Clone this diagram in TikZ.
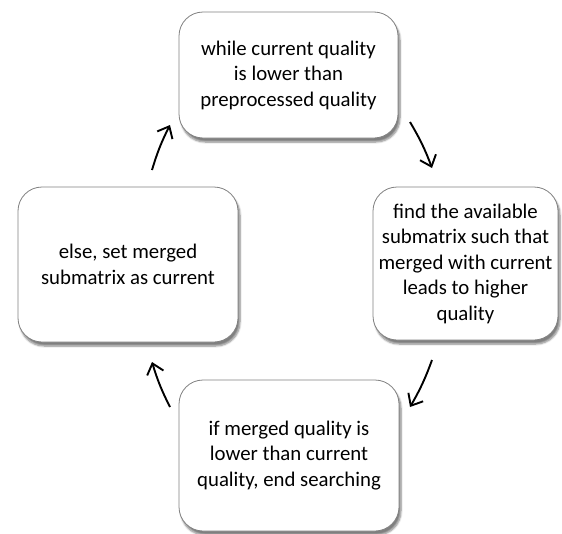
\documentclass[tikz,border=0pt]{standalone}
\usepackage{fontspec}
\setmainfont{Carlito}
\usetikzlibrary{arrows.meta,shadows.blur}
\begin{document}
\begin{tikzpicture}[x=1pt,y=-1pt,
  stepbox/.style={draw=black!50, line width=0.8pt, fill=white, rounded corners=24pt,
    blur shadow={shadow xshift=2pt, shadow yshift=-4pt, shadow blur steps=6, shadow opacity=50},
    align=center, font=\fontsize{20.8}{25.5}\selectfont, inner sep=0pt},
  flow/.style={line width=1.9pt, -{Straight Barb[length=10pt,width=17pt,line width=1.9pt]}}]
\useasboundingbox (0,0) rectangle (562,533);
\node[stepbox, minimum width=219pt, minimum height=126pt] (top) at (288.5,75)
  {while current quality\\is lower than\\preprocessed quality};
\node[stepbox, minimum width=185pt, minimum height=153pt] (right) at (465.5,263.5)
  {find the available\\submatrix such that\\merged with current\\leads to higher\\quality};
\node[stepbox, minimum width=220pt, minimum height=151pt] (bottom) at (289,455.5)
  {if merged quality is\\lower than current\\quality, end searching};
\node[stepbox, minimum width=220pt, minimum height=155pt] (left) at (128,264.5)
  {else, set merged\\submatrix as current};
\coordinate (a1s) at (410,122); \coordinate (a1e) at (432,168);
\coordinate (a2s) at (432,360); \coordinate (a2e) at (410,407);
\coordinate (a3s) at (170,407); \coordinate (a3e) at (152,362);
\coordinate (a4s) at (152,170); \coordinate (a4e) at (170,125);
\draw[flow] (a1s) to[bend left=5] (a1e);
\draw[flow] (a2s) to[bend left=5] (a2e);
\draw[flow] (a3s) to[bend left=5] (a3e);
\draw[flow] (a4s) to[bend left=5] (a4e);
\end{tikzpicture}
\end{document}
